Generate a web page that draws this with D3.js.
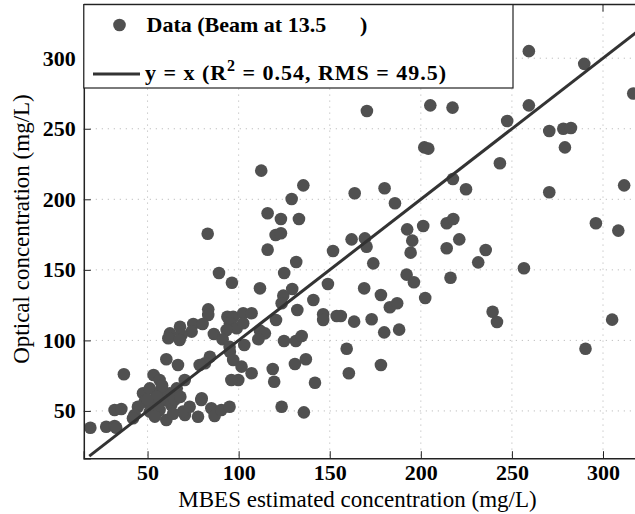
<!DOCTYPE html>
<html><head><meta charset="utf-8">
<script src="https://cdn.jsdelivr.net/npm/d3@7"></script>
<style>body{margin:0;background:#fff}svg{display:block}</style>
</head><body>
<script>
// MBES estimated concentration (x) and optical concentration (y), mg/L
const mbes = [259.3,289.7,170.4,205.2,217.4,259.3,316.6,247.4,270.5,278.2,282.4,279.1,201.9,204.1,243.4,217.6,224.8,270.5,311.6,163.7,
180.1,185.8,192.5,201.3,195.3,214.2,217.8,221.1,296.1,308.4,162,169.3,170.2,194.4,214.2,235.6,173.9,231.5,256.6,192.2,
196.2,216.3,168.9,178.1,183,187,202.4,156.1,163.4,173,179.9,188.1,239.4,241.8,305,290.4,159.3,178.1,160.5,
112.4,135.5,129.1,115.9,123.2,133.1,83,120.3,123.2,115.9,151.8,131.6,125,89.2,96.3,111.7,129.4,149,124.5,141,
123.6,83.3,83.3,75.1,80.2,74.2,93.8,97,102.5,107.1,95.2,98.9,93.4,102.5,120.5,132.2,146.4,146.4,153.8,86.4,
91.2,111.7,114.4,110.8,103.1,124.9,131.4,134.6,84.2,81.5,95.2,97,101.6,107.1,99.8,130.9,136.9,118.7,119.5,141.9,79.7,
62.3,67.8,68.7,61.4,123.6,135.8,70.5,
37,53.3,60.3,66.7,67.6,70.4,78.6,56.6,47.5,51.2,57.5,62.1,59.4,63,53.9,48.4,44.7,51.2,56.6,60.3,42.9,42,31.9,35.6,
18.6,27.3,31.9,32.8,69.4,73.1,79.5,77.7,85,86.8,90.5,95,95,96,
55,65,58,50,66,64,54,68];
const optical = [305,296,262.6,266.6,265,266.6,275,255.5,248.4,250,250.5,236.8,236.8,235.9,225.5,214.4,207.1,205,209.9,204.3,
207.8,197.2,178.7,181.1,170.7,183,186,171.6,183,177.8,171.6,172.3,166.4,162.2,165.3,164.1,154.6,155.3,151.1,146.6,
141.2,144.4,136.9,132.2,123.5,126.3,130,117.3,113.3,115,105.7,107.6,120.3,113,114.7,94.1,94.1,82.6,76.7,
220.3,209.9,200.2,190.1,186,186,175.6,174.7,175.9,164.3,163.4,155.6,147.8,147.8,140.9,136.9,136.4,140,131.7,128.6,
126.3,122,118,111.6,111.6,106.2,116.8,116.8,119.2,119.2,112.1,108.6,107.4,112.1,114.5,121.5,118.5,114.5,117.3,104.5,
100.8,106.9,105,100.8,96.7,99.6,99.6,103.1,88.4,83.8,92,86.1,81.4,76.7,71.9,83.3,86.6,79.7,70.7,70,59,
105,109.7,103.8,101.5,53,49,47.1,
76,75.5,86.6,82.6,100.3,71.9,82.6,71.9,62.5,66,64.8,62.5,57.8,54.2,55.4,56.6,53,49.5,50.7,43.6,47.1,44.8,50.7,51.4,
38.1,38.8,39.3,38.1,49.5,53,57.8,45.9,51.9,46.4,50.7,53,95.5,71.9,
60,58,68,58,66,48,46,60];
const xTicks = [50,100,150,200,250,300];
const yTicks = [50,100,150,200,250,300];
const fitLine = [18,330];
const legendLabels = ["Data (Beam at 13.5",")","y = x (R","2"," = 0.54, RMS = 49.5)"];

const W=635,H=514;
const svg=d3.select("body").append("svg").attr("width",W).attr("height",H);
const L=83.8,R=635.8,T=4.6,B=458.2;
const x=d3.scaleLinear().domain([15,318]).range([L,R]);
const y=d3.scaleLinear().domain([16.5,338]).range([B,T]);

// grid
const g=svg.append("g");
g.selectAll(".gx").data(xTicks).join("line").attr("x1",d=>x(d)).attr("x2",d=>x(d)).attr("y1",T).attr("y2",B)
 .attr("stroke","#b0b0b0").attr("stroke-width",1).attr("stroke-dasharray","1,5");
g.selectAll(".gy").data(yTicks).join("line").attr("y1",d=>y(d)).attr("y2",d=>y(d)).attr("x1",L).attr("x2",W)
 .attr("stroke","#b0b0b0").attr("stroke-width",1).attr("stroke-dasharray","1,5");

// points
svg.append("g").selectAll("circle").data(mbes.map((v,i)=>[v,optical[i]])).join("circle")
 .attr("cx",d=>x(d[0])).attr("cy",d=>y(d[1])).attr("r",6.3).attr("fill","#505050");

// y = x line
svg.append("line").attr("x1",x(fitLine[0])).attr("y1",y(fitLine[0])).attr("x2",x(fitLine[1])).attr("y2",y(fitLine[1]))
 .attr("stroke","#333").attr("stroke-width",3);

// axes
const font="'Liberation Serif','Times New Roman',serif";
const xa=svg.append("g").attr("transform",`translate(0,${B})`)
 .call(d3.axisBottom(x).tickValues(xTicks).tickSize(-7).tickPadding(6).tickFormat(d3.format("d")));
const ya=svg.append("g").attr("transform",`translate(${L},0)`)
 .call(d3.axisLeft(y).tickValues(yTicks).tickSize(-7).tickPadding(8).tickFormat(d3.format("d")));
[xa,ya].forEach(a=>{a.select(".domain").attr("stroke","#222").attr("stroke-width",1.5);
 a.selectAll(".tick line").attr("stroke","#222");
 a.selectAll("text").attr("font-family",font).attr("font-size",22).attr("font-weight","bold").attr("fill","#000");});
// top border with ticks
svg.append("line").attr("x1",L).attr("x2",W).attr("y1",T).attr("y2",T).attr("stroke","#222").attr("stroke-width",1.5);
svg.append("g").selectAll("line").data(xTicks).join("line").attr("x1",d=>x(d)).attr("x2",d=>x(d)).attr("y1",T).attr("y2",T+7).attr("stroke","#222");

// axis titles
svg.append("text").attr("x",357.5).attr("y",507).attr("text-anchor","middle").attr("font-family",font)
 .attr("font-size",23).text("MBES estimated concentration (mg/L)");
svg.append("text").attr("transform",`translate(29,229) rotate(-90)`).attr("text-anchor","middle").attr("font-family",font)
 .attr("font-size",23).text("Optical concentration (mg/L)");

// legend
const lg=svg.append("g");
lg.append("rect").attr("x",L).attr("y",T).attr("width",513-L).attr("height",88-T).attr("fill","#fff").attr("stroke","#222").attr("stroke-width",1.2);
lg.append("circle").attr("cx",119.5).attr("cy",25).attr("r",6.3).attr("fill","#505050");
lg.append("line").attr("x1",93).attr("x2",140).attr("y1",74).attr("y2",74).attr("stroke","#333").attr("stroke-width",3);
const t1=lg.append("text").attr("y",32).attr("font-family",font).attr("font-size",22).attr("font-weight","bold");
t1.append("tspan").attr("x",146.5).text(legendLabels[0]);
t1.append("tspan").attr("x",360).text(legendLabels[1]);
const t2=lg.append("text").attr("x",145).attr("y",80).attr("font-family",font).attr("font-size",22).attr("font-weight","bold")
 .attr("textLength",301).attr("lengthAdjust","spacing");
t2.append("tspan").text(legendLabels[2]);
t2.append("tspan").attr("dy",-9).attr("font-size",16).text(legendLabels[3]);
t2.append("tspan").attr("dy",9).text(legendLabels[4]);
</script>
</body></html>
